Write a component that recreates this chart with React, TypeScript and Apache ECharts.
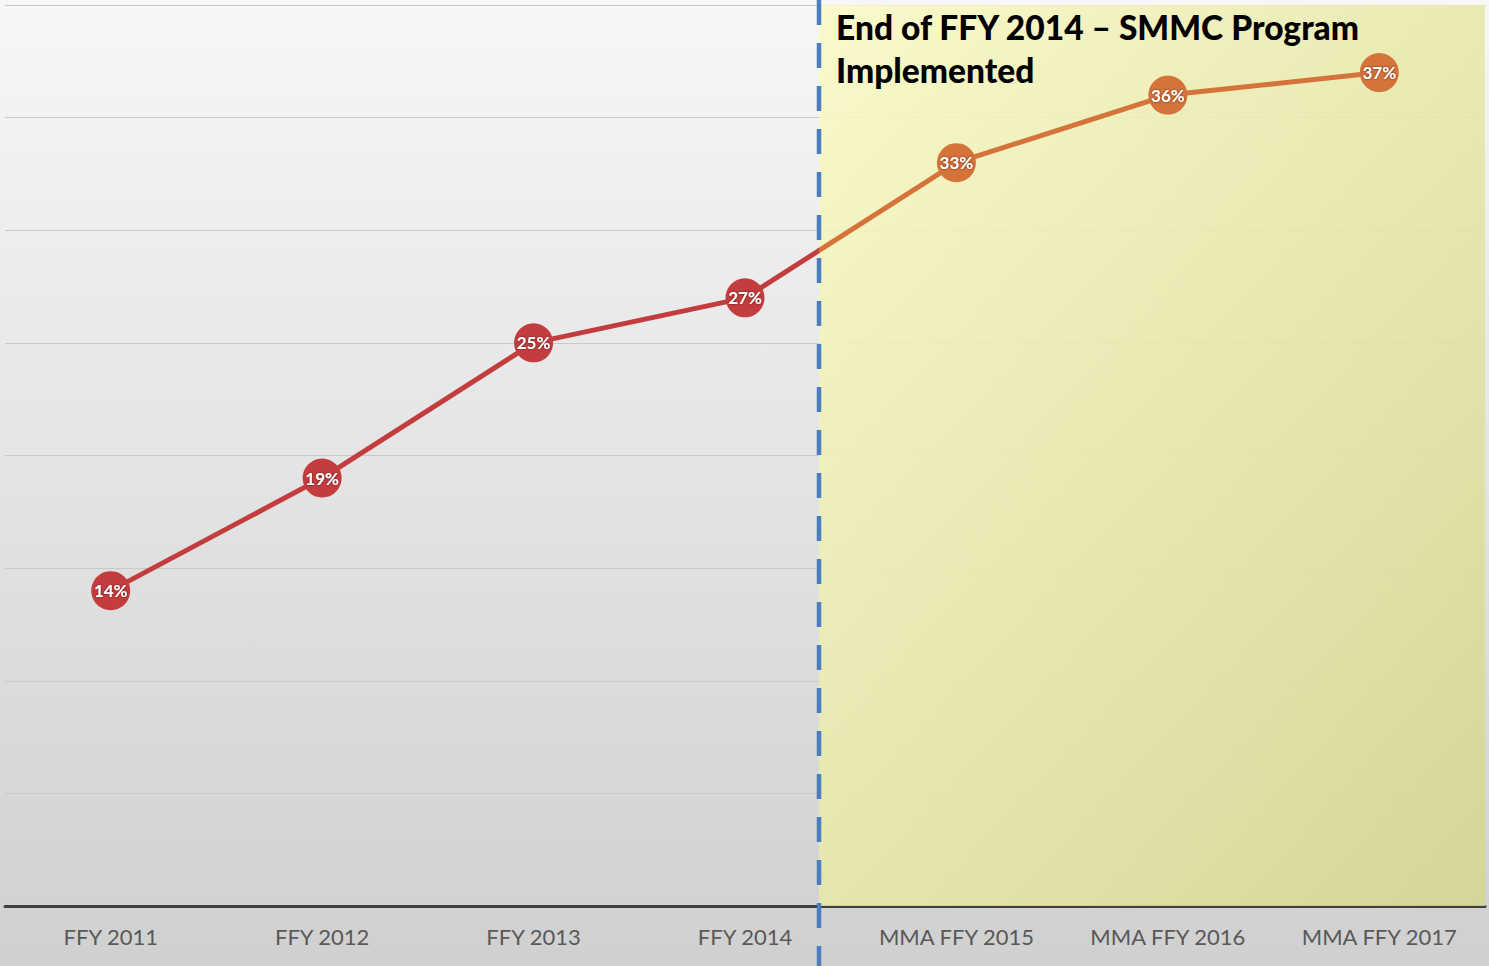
import React, { useEffect, useRef } from "react";
import * as echarts from "echarts";

const categories = [
  "FFY 2011",
  "FFY 2012",
  "FFY 2013",
  "FFY 2014",
  "MMA FFY 2015",
  "MMA FFY 2016",
  "MMA FFY 2017",
];
const values = [14, 19, 25, 27, 33, 36, 37];
const yMin = 0;
const yMax = 40;
const yInterval = 5;
// position (in category index units) of the SMMC implementation marker
const programStart = 3.35;
const annotation = "End of FFY 2014 \u2013 SMMC Program\nImplemented";

const RED = "#c33d3f";
const ORANGE = "#d4733a";
const DASH = "#4a7ebf";

export default function App() {
  const ref = useRef<HTMLDivElement>(null);

  useEffect(() => {
    if (!ref.current) return;
    const chart = echarts.init(ref.current, null, { renderer: "svg" });
    const f = programStart / (categories.length - 1);
    const option: any = {
      animation: false,
      backgroundColor: new echarts.graphic.LinearGradient(0, 0, 0, 1, [
        { offset: 0, color: "#f7f7f7" },
        { offset: 1, color: "#d0d0d0" },
      ]),
      title: {
        text: annotation,
        left: 836,
        top: 5,
        padding: 0,
        textStyle: {
          fontFamily: "Lato",
          fontWeight: 900,
          fontSize: 33.5,
          lineHeight: 43,
          color: "#000",
        },
      },
      grid: { left: 5, right: 4, top: 5, bottom: 60, containLabel: false },
      xAxis: [
        {
          type: "category",
          data: categories,
          boundaryGap: true,
          axisLine: { show: true, lineStyle: { color: "#404040", width: 3 } },
          axisTick: { show: false },
          axisLabel: {
            color: "#595959",
            fontFamily: "Lato",
            fontSize: 22,
            margin: 19,
          },
          splitLine: { show: false },
        },
        {
          type: "value",
          min: -0.5,
          max: categories.length - 0.5,
          show: false,
        },
      ],
      yAxis: {
        type: "value",
        min: yMin,
        max: yMax,
        interval: yInterval,
        axisLine: { show: false },
        axisTick: { show: false },
        axisLabel: { show: false },
        splitLine: { lineStyle: { color: "#c9c9c9", width: 1.2 } },
      },
      series: [
        {
          type: "line",
          xAxisIndex: 1,
          data: [[programStart, yMin]],
          symbol: "none",
          lineStyle: { opacity: 0 },
          silent: true,
          z: 1,
          markArea: {
            silent: true,
            itemStyle: {
              opacity: 0.88,
              color: new echarts.graphic.LinearGradient(0, 0, 1, 1, [
                { offset: 0, color: "#fafac4" },
                { offset: 1, color: "#d6d692" },
              ]),
            },
            data: [
              [
                { xAxis: programStart, yAxis: yMax },
                { xAxis: categories.length - 0.5, yAxis: yMin },
              ],
            ],
          },
        },
        {
          type: "line",
          data: values.map((v, i) => ({
            value: v,
            itemStyle: { color: i < programStart ? RED : ORANGE },
          })),
          z: 5,
          symbol: "circle",
          symbolSize: 39,
          lineStyle: {
            width: 5,
            color: new echarts.graphic.LinearGradient(0, 0, 1, 0, [
              { offset: 0, color: RED },
              { offset: f, color: RED },
              { offset: f, color: ORANGE },
              { offset: 1, color: ORANGE },
            ]),
          },
          label: {
            show: true,
            position: "inside",
            formatter: "{c}%",
            color: "#fff",
            fontFamily: "Lato",
            fontWeight: "bold",
            fontSize: 17,
            textShadowColor: "rgba(60,0,0,0.7)",
            textShadowBlur: 2,
          },
        },
      ],
    };
    chart.setOption(option);
    const x = chart.convertToPixel({ xAxisIndex: 1 }, programStart) as number;
    chart.setOption({
      graphic: [
        {
          type: "line",
          z: 100,
          shape: { x1: x, y1: 0, x2: x, y2: 966 },
          style: { stroke: DASH, lineWidth: 4.5, lineDash: [25, 18] },
        },
      ],
    });
    return () => chart.dispose();
  }, []);

  return (
    <div
      ref={ref}
      style={{ position: "fixed", left: 0, top: 0, width: 1489, height: 966 }}
    />
  );
}
